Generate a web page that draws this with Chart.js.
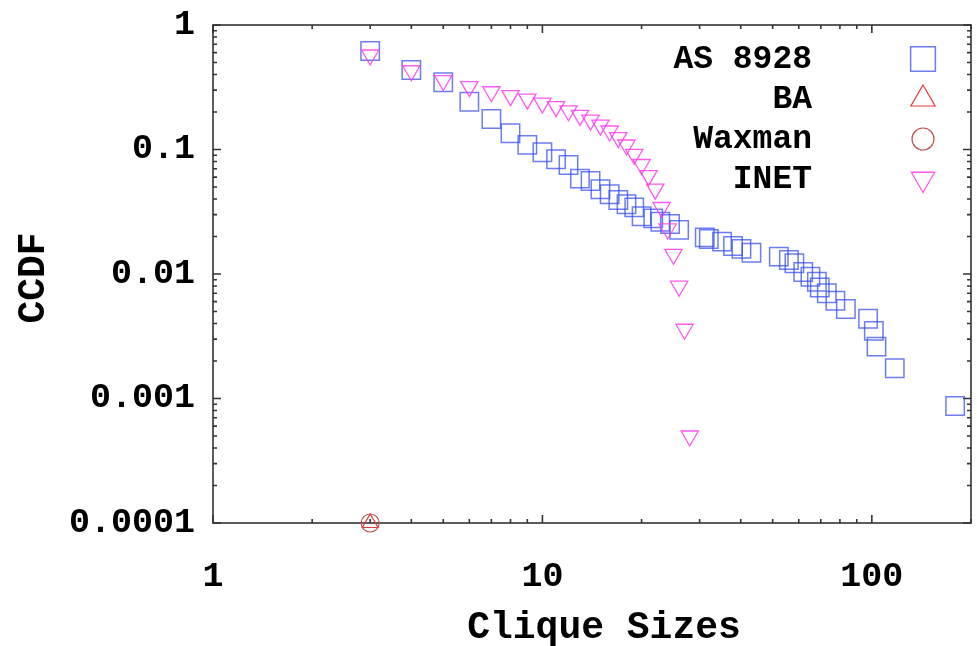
<!DOCTYPE html>
<html><head><meta charset="utf-8">
<script src="https://cdn.jsdelivr.net/npm/chart.js@4/dist/chart.umd.min.js"></script>
<style>html,body{margin:0;padding:0;background:#fff}#wrap{width:977px;height:646px;position:relative}</style>
</head><body><div id="wrap"><canvas id="c" width="977" height="646"></canvas></div>
<script>
// ---- data ----
const seriesNames = ['AS 8928', 'BA', 'Waxman', 'INET'];
const asX = [3,4,5,6,7,8,9,10,11,12,13,14,15,16,17,18,19,20,21.7,22.8,24.4,26,31.1,32,35.1,37.9,40.2,43.1,52.2,56,58.2,61.9,65.1,68.1,69.5,73,77.5,83.4,97.4,101.4,103.3,117.4,179];
const asY = [0.618,0.435,0.347,0.242,0.176,0.135,0.109,0.095,0.0834,0.0751,0.0583,0.0558,0.0479,0.0437,0.0393,0.0363,0.0343,0.0291,0.028,0.0263,0.0252,0.0226,0.0197,0.0191,0.0182,0.0168,0.0159,0.0148,0.0138,0.01296,0.0122,0.01038,0.00951,0.00867,0.00779,0.0070,0.0061,0.00524,0.00437,0.00349,0.00261,0.00175,0.00087];
const baX = [3];
const baY = [0.0001];
const waxX = [3];
const waxY = [0.0001];
const inetX = [3,4,5,6,7,8,9,10,11,12,13,14,15,16,17,18,19,20,21,22,23,24,25,26,27,28];
const inetY = [0.574,0.429,0.358,0.320,0.291,0.2705,0.254,0.236,0.221,0.2046,0.188,0.172,0.157,0.1408,0.1244,0.1087,0.0915,0.0758,0.0616,0.048,0.0342,0.023,0.0144,0.00798,0.0036,0.0005];
const xTickValues = [1, 10, 100];
const xTickLabels = ['1', '10', '100'];
const yTickValues = [1, 0.1, 0.01, 0.001, 0.0001];
const yTickLabels = ['1', '0.1', '0.01', '0.001', '0.0001'];
const xRange = [1, 200];
const yRange = [0.0001, 1];
const xTitle = 'Clique Sizes';
const yTitle = 'CCDF';

const FONT = '"Liberation Mono", "DejaVu Sans Mono", monospace';
const pts = (xs, ys) => xs.map((x, i) => ({x: x, y: ys[i]}));

function drawMarker(ctx, style, rot, x, y, r, color, lw) {
  ctx.save();
  ctx.strokeStyle = color; ctx.lineWidth = lw;
  ctx.beginPath();
  if (style === 'rect') {
    const s = r * Math.SQRT1_2;
    ctx.rect(x - s, y - s, 2 * s, 2 * s);
  } else if (style === 'circle') {
    ctx.arc(x, y, r, 0, Math.PI * 2);
  } else if (style === 'triangle') {
    let a = (rot || 0) * Math.PI / 180;
    ctx.moveTo(x + Math.sin(a) * r, y - Math.cos(a) * r);
    a += 2 * Math.PI / 3;
    ctx.lineTo(x + Math.sin(a) * r, y - Math.cos(a) * r);
    a += 2 * Math.PI / 3;
    ctx.lineTo(x + Math.sin(a) * r, y - Math.cos(a) * r);
    ctx.closePath();
  }
  ctx.stroke();
  ctx.restore();
}

function logTicks(min, max) {
  const out = [];
  for (let e = Math.floor(Math.log10(min)); e <= Math.ceil(Math.log10(max)); e++) {
    for (let m = 1; m <= 9; m++) {
      const v = m * Math.pow(10, e);
      if (v >= min * 0.999 && v <= max * 1.001) out.push({v: v, major: m === 1});
    }
  }
  return out;
}

const framePlugin = {
  id: 'frame',
  beforeDatasetsDraw(chart) {
    const {ctx, chartArea: a, scales} = chart;
    ctx.save();
    ctx.strokeStyle = '#333';
    ctx.lineWidth = 1.6;
    ctx.strokeRect(a.left, a.top, a.right - a.left, a.bottom - a.top);
    ctx.beginPath();
    logTicks(xRange[0], xRange[1]).forEach(t => {
      const px = scales.x.getPixelForValue(t.v);
      const len = t.major ? 8 : 4;
      ctx.moveTo(px, a.bottom); ctx.lineTo(px, a.bottom - len);
      ctx.moveTo(px, a.top); ctx.lineTo(px, a.top + len);
    });
    logTicks(yRange[0], yRange[1]).forEach(t => {
      const py = scales.y.getPixelForValue(t.v);
      const len = t.major ? 8 : 4;
      ctx.moveTo(a.left, py); ctx.lineTo(a.left + len, py);
      ctx.moveTo(a.right, py); ctx.lineTo(a.right - len, py);
    });
    ctx.stroke();
    // axis titles
    ctx.fillStyle = '#000';
    ctx.font = 'bold 38px ' + FONT;
    ctx.textAlign = 'center';
    ctx.textBaseline = 'middle';
    ctx.fillText(xTitle, (a.left + a.right) / 2 + 12, a.bottom + 105);
    ctx.save();
    ctx.translate(34, (a.top + a.bottom) / 2 + 4);
    ctx.rotate(-Math.PI / 2);
    ctx.fillText(yTitle, 0, 0);
    ctx.restore();
    ctx.restore();
  }
};

const legendRadius = [17.5, 14, 11, 13.5];
const legendPlugin = {
  id: 'cornerLegend',
  afterDatasetsDraw(chart) {
    const {ctx, chartArea: a} = chart;
    ctx.save();
    ctx.font = 'bold 33px ' + FONT;
    ctx.textAlign = 'right';
    ctx.textBaseline = 'middle';
    chart.data.datasets.forEach((ds, i) => {
      const y = a.top + 34 + i * 40;
      ctx.fillStyle = '#000';
      ctx.fillText(ds.label, a.right - 159, y + 1);
      drawMarker(ctx, ds.pointStyle, ds.pointRotation, a.right - 48, y, legendRadius[i], ds.borderColor, ds.borderWidth);
    });
    ctx.restore();
  }
};

const tickFont = {family: FONT, size: 35, weight: 'bold', lineHeight: 1.2};
const noPad = s => { s.paddingTop = 0; s.paddingBottom = 0; s.paddingLeft = 0; s.paddingRight = 0; };

new Chart(document.getElementById('c'), {
  type: 'scatter',
  data: {
    datasets: [
      {label: seriesNames[0], data: pts(asX, asY), pointStyle: 'rect', pointRadius: 13, pointHoverRadius: 13,
       borderColor: 'rgba(50,75,235,0.72)', backgroundColor: 'rgba(0,0,0,0)', borderWidth: 1.5, clip: false, order: 3},
      {label: seriesNames[1], data: pts(baX, baY), pointStyle: 'triangle', pointRadius: 9, pointHoverRadius: 9,
       borderColor: '#e8383a', backgroundColor: 'rgba(0,0,0,0)', borderWidth: 1.2, clip: false, order: 2},
      {label: seriesNames[2], data: pts(waxX, waxY), pointStyle: 'circle', pointRadius: 9, pointHoverRadius: 9,
       borderColor: '#c0504d', backgroundColor: 'rgba(0,0,0,0)', borderWidth: 1.2, clip: false, order: 1},
      {label: seriesNames[3], data: pts(inetX, inetY), pointStyle: 'triangle', pointRotation: 180, pointRadius: 10, pointHoverRadius: 10,
       borderColor: 'rgba(255,60,235,0.85)', backgroundColor: 'rgba(0,0,0,0)', borderWidth: 1.3, clip: false, order: 0}
    ]
  },
  options: {
    responsive: false,
    animation: false,
    devicePixelRatio: 1,
    events: [],
    layout: {autoPadding: false, padding: {left: 0, right: 6, top: 25, bottom: 0}},
    plugins: {legend: {display: false}, tooltip: {enabled: false}},
    scales: {
      x: {
        type: 'logarithmic', position: 'bottom', min: xRange[0], max: xRange[1],
        afterBuildTicks: s => { s.ticks = xTickValues.map(v => ({value: v})); },
        afterFit: s => { s.height = 123; noPad(s); },
        grid: {display: false, drawTicks: false}, border: {display: false},
        ticks: {autoSkip: false, maxRotation: 0, padding: 33, color: '#000', font: tickFont,
          callback: v => { const i = xTickValues.indexOf(v); return i >= 0 ? xTickLabels[i] : ''; }},
        title: {display: false}
      },
      y: {
        type: 'logarithmic', position: 'left', min: yRange[0], max: yRange[1],
        afterBuildTicks: s => { s.ticks = yTickValues.map(v => ({value: v})); },
        afterFit: s => { s.width = 213; noPad(s); },
        grid: {display: false, drawTicks: false}, border: {display: false},
        ticks: {autoSkip: false, padding: 18, color: '#000', font: tickFont,
          callback: v => { const i = yTickValues.indexOf(v); return i >= 0 ? yTickLabels[i] : ''; }},
        title: {display: false}
      }
    }
  },
  plugins: [framePlugin, legendPlugin]
});
</script>
</body></html>
